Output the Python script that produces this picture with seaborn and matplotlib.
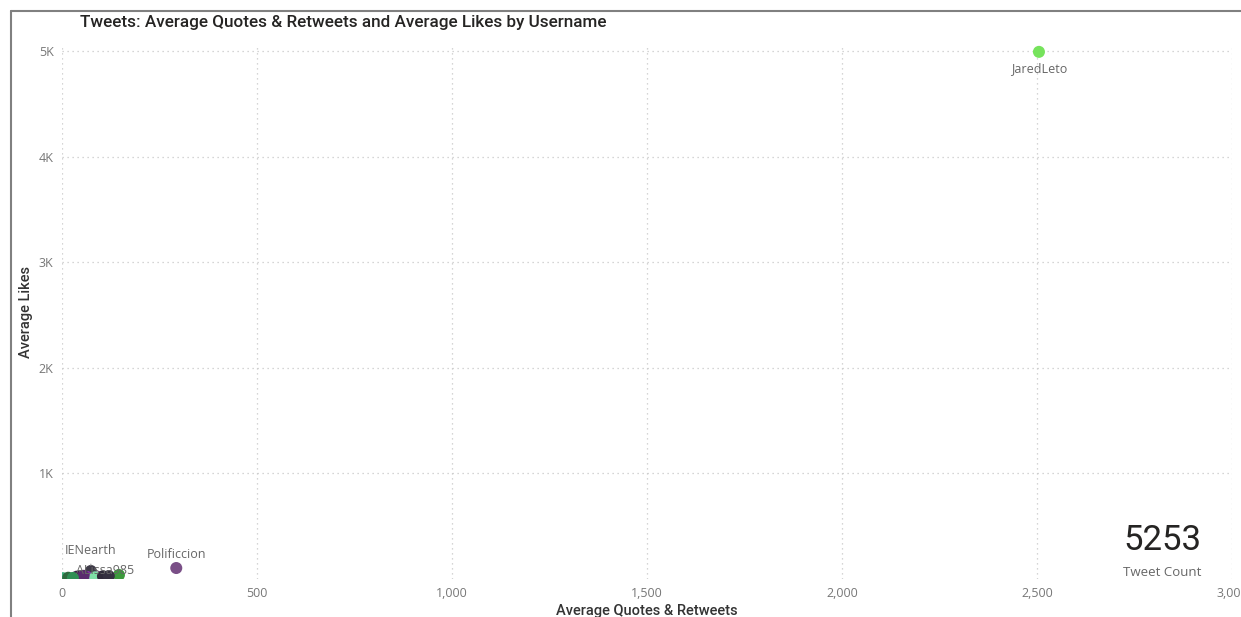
import matplotlib
matplotlib.use("Agg")
import matplotlib.pyplot as plt
import matplotlib.ticker as mticker
from matplotlib.lines import Line2D
import seaborn as sns
import pandas as pd

# Per-user averages
usernames = ["JaredLeto", "Polificcion", "IENearth", "ALissa985",
             "user_a", "user_b", "user_c", "user_d", "user_e", "user_f", "user_g",
             "user_h", "user_i", "user_j"]
avg_quotes_retweets = [2505, 293, 74, 95, 2, 16, 38, 64, 85, 105, 146, 55, 120, 28]
avg_likes = [4995, 104, 76, 18, 8, 12, 22, 20, 16, 26, 38, 30, 28, 10]
point_colors = ["#76E35C", "#7A4F87", "#3E3A48", "#C067D8",
                "#3FB27F", "#2E6B3E", "#3B2347", "#8B2FB0", "#7FE0A7", "#2F2A3A", "#3C9A3C",
                "#5B2A6E", "#343040", "#2F8F55"]
labeled = {"JaredLeto": (0, -12), "Polificcion": (0, 10), "IENearth": (0, 15), "ALissa985": (4, 5)}

ticks_x = [0, 500, 1000, 1500, 2000, 2500, 3000]
ticks_y = [1000, 2000, 3000, 4000, 5000]
tweet_count = 5253

df = pd.DataFrame({"Username": usernames,
                   "Average Quotes & Retweets": avg_quotes_retweets,
                   "Average Likes": avg_likes})

sns.set_theme(style="white")
plt.rcParams["font.family"] = ["Open Sans", "DejaVu Sans"]

fig = plt.figure(figsize=(12.41, 6.17), dpi=100)
ax = fig.add_axes([62 / 1241, 1 - 579 / 617, (1232 - 62) / 1241, (579 - 45) / 617])

sns.scatterplot(data=df, x="Average Quotes & Retweets", y="Average Likes",
                hue="Username", palette=dict(zip(usernames, point_colors)),
                s=75, edgecolor="none", alpha=1.0, legend=False, ax=ax)

ax.set_xlim(0, 3000)
ax.set_ylim(0, 5060)
ax.set_xticks(ticks_x)
ax.set_yticks(ticks_y)
ax.xaxis.set_major_formatter(mticker.FuncFormatter(lambda v, p: f"{int(v):,}"))
ax.yaxis.set_major_formatter(mticker.FuncFormatter(lambda v, p: f"{int(v / 1000)}K"))
ax.tick_params(axis="both", length=0, labelsize=9, labelcolor="#777777", pad=6)
for lab in ax.get_xticklabels() + ax.get_yticklabels():
    lab.set_family(["Open Sans", "DejaVu Sans"])

ax.grid(True, linestyle=(0, (1, 3)), color="#c8c8c8", linewidth=0.9)
ax.set_axisbelow(True)
for sp in ax.spines.values():
    sp.set_visible(False)

ax.set_xlabel("Average Quotes & Retweets", fontsize=10.5, color="#333333",
              family=["Roboto", "DejaVu Sans"], fontweight="medium", labelpad=3)
ax.set_ylabel("Average Likes", fontsize=10.5, color="#333333",
              family=["Roboto", "DejaVu Sans"], fontweight="medium", labelpad=4)

for name, x, y in zip(usernames, avg_quotes_retweets, avg_likes):
    if name in labeled:
        dx, dy = labeled[name]
        props = None
        if name == "IENearth":
            props = dict(arrowstyle="-", color="#999999", lw=0.8, shrinkA=3, shrinkB=4)
        ax.annotate(name, (x, y), xytext=(dx, dy), textcoords="offset points",
                    ha="center", va="center", fontsize=9, color="#666666",
                    arrowprops=props, annotation_clip=False)

fig.text(80 / 1241, 1 - 23 / 617, "Tweets: Average Quotes & Retweets and Average Likes by Username",
         fontsize=12.3, color="#252423", family=["Roboto", "DejaVu Sans"], fontweight="medium",
         ha="left", va="center")

fig.text(1162 / 1241, 1 - 540 / 617, f"{tweet_count}", fontsize=25, color="#252423",
         family=["Roboto", "DejaVu Sans"], ha="center", va="center")
fig.text(1162 / 1241, 1 - 572 / 617, "Tweet Count", fontsize=9.5, color="#666666",
         family=["Open Sans", "DejaVu Sans"], ha="center", va="center")

# Visual frame
fig.add_artist(Line2D([11 / 1241, 11 / 1241], [0, 1 - 11 / 617], transform=fig.transFigure,
                      color="#808080", lw=1.5))
fig.add_artist(Line2D([11 / 1241, 1], [1 - 11 / 617, 1 - 11 / 617], transform=fig.transFigure,
                      color="#808080", lw=1.5))

fig.savefig("out.png", dpi=100)
